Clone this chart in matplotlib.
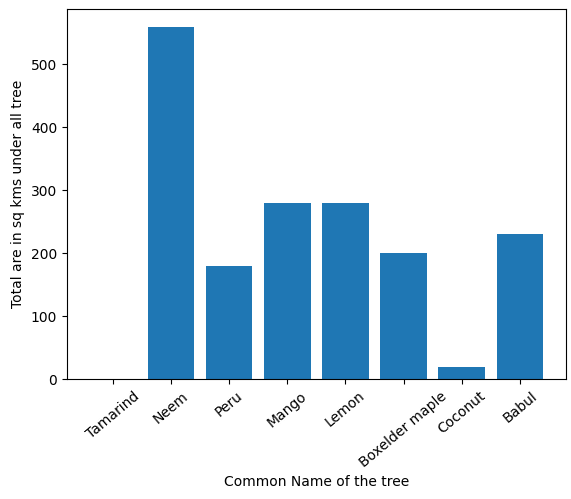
import matplotlib.pyplot as plt

trees = ['Tamarind', 'Neem', 'Peru', 'Mango', 'Lemon', 'Boxelder maple', 'Coconut', 'Babul']
area = [1, 560, 180, 280, 280, 200, 20, 230]

fig, ax = plt.subplots(figsize=(5.71, 4.99), dpi=100)
ax.bar(trees, area)
ax.set_xlabel('Common Name of the tree')
ax.set_ylabel('Total are in sq kms under all tree')
plt.xticks(rotation=40)
plt.subplots_adjust(left=0.117, right=0.991, top=0.982, bottom=0.240)
plt.savefig('out.png')
